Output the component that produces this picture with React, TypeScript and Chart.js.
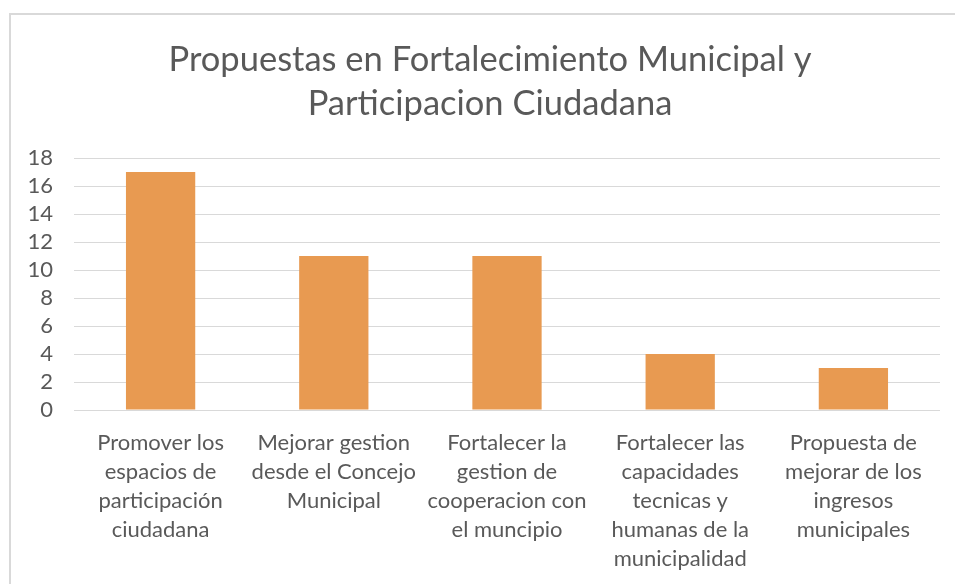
import React, { useEffect, useRef } from "react";
import { Chart, registerables } from "chart.js";

Chart.register(...registerables);

const titleLines = ["Propuestas en Fortalecimiento Municipal y", "Participacion Ciudadana"];
const categories: string[][] = [
  ["Promover los", "espacios de", "participación", "ciudadana"],
  ["Mejorar gestion", "desde el Concejo", "Municipal"],
  ["Fortalecer la", "gestion de", "cooperacion con", "el muncipio"],
  ["Fortalecer las", "capacidades", "tecnicas y", "humanas de la", "municipalidad"],
  ["Propuesta de", "mejorar de los", "ingresos", "municipales"],
];
const values = [17, 11, 11, 4, 3];
const yMin = 0;
const yMax = 18;
const yStep = 2;

const FONT = "Lato, 'Open Sans', sans-serif";
const TEXT = "#595959";

const framePlugin = {
  id: "frame",
  beforeDraw(chart: any) {
    const ctx = chart.ctx;
    ctx.save();
    ctx.fillStyle = "#ffffff";
    ctx.fillRect(0, 0, chart.width, chart.height);
    ctx.strokeStyle = "#d9d9d9";
    ctx.lineWidth = 2;
    ctx.strokeRect(10, 14, 2000, 2000);
    ctx.fillStyle = TEXT;
    ctx.font = `normal 34.5px ${FONT}`;
    ctx.textAlign = "center";
    ctx.textBaseline = "middle";
    titleLines.forEach((line, i) => {
      ctx.fillText(line, 490, 60 + i * 44);
    });
    ctx.restore();
  },
};

export default function App() {
  const ref = useRef<HTMLCanvasElement | null>(null);
  useEffect(() => {
    if (!ref.current) return;
    const chart = new Chart(ref.current, {
      type: "bar",
      data: {
        labels: categories,
        datasets: [
          {
            data: values,
            backgroundColor: "#E89A51",
            borderWidth: 0,
            barPercentage: 0.4,
            categoryPercentage: 1,
          },
        ],
      },
      options: {
        animation: false,
        responsive: true,
        maintainAspectRatio: false,
        layout: { padding: { top: 158, right: 15, left: 0, bottom: 0 } },
        plugins: {
          legend: { display: false },
          tooltip: { enabled: false },
          title: { display: false },
        },
        scales: {
          x: {
            grid: { display: false, drawTicks: false },
            border: { display: false },
            ticks: {
              color: TEXT,
              font: { family: FONT, size: 22, lineHeight: 29 / 22 },
              padding: 18,
              maxRotation: 0,
              autoSkip: false,
            },
            afterFit(scale: any) {
              scale.height = 174;
            },
          },
          y: {
            min: yMin,
            max: yMax,
            grid: { color: "#d9d9d9", lineWidth: 1, drawTicks: false },
            border: { display: false },
            ticks: {
              stepSize: yStep,
              autoSkip: false,
              color: TEXT,
              font: { family: FONT, size: 22 },
              padding: 21,
            },
            afterFit(scale: any) {
              scale.width = 74;
            },
          },
        },
      },
      plugins: [framePlugin],
    });
    return () => chart.destroy();
  }, []);
  return (
    <div style={{ position: "absolute", left: 0, top: 0, width: 955, height: 584 }}>
      <canvas ref={ref} />
    </div>
  );
}
